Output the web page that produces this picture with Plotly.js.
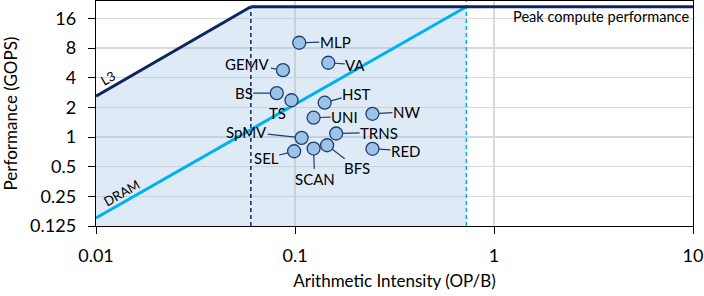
<!DOCTYPE html>
<html>
<head>
<meta charset="utf-8">
<script src="https://cdn.plot.ly/plotly-3.0.1.min.js"></script>
<style>html,body{margin:0;padding:0;background:#fff;}#chart{width:704px;height:296px;}</style>
</head>
<body>
<div id="chart"></div>
<script>
// ---- data ----
const kernels   = ['MLP','VA','GEMV','BS','TS','HST','UNI','NW','TRNS','SpMV','SEL','SCAN','BFS','RED'];
const intensity = [0.105,0.147,0.087,0.081,0.096,0.141,0.124,0.245,0.161,0.108,0.099,0.124,0.145,0.245];
const perf      = [9.05,5.67,4.77,2.79,2.36,2.23,1.57,1.72,1.085,0.98,0.717,0.764,0.825,0.759];

const peakPerf = 21;
const l3X   = [0.01, 0.06];
const l3Y   = [2.6, 21];
const dramX = [0.01, 0.726];
const dramY = [0.151, 21];

const xTickVals = [0.01, 0.1, 1, 10];
const xTickText = ['0.01', '0.1', '1', '10'];
const yTickVals = [0.125, 0.25, 0.5, 1, 2, 4, 8, 16];
const yTickText = ['0.125', '0.25', '0.5', '1', '2', '4', '8', '16'];
const xMin = 0.01, xMax = 10, yMin = 0.125, yMax = 24;

// ---- styling / label placement (pixels) ----
const FONT = 'Lato, "Open Sans", sans-serif';
const NAVY = '#0E2660';
const CYAN = '#00B0F0';
const labelOffset = {
  MLP:[36,-1], VA:[27,2], GEMV:[-35,-6], BS:[-33,0], TS:[-14,13], HST:[32,-9],
  UNI:[31,-1], NW:[34,-2], TRNS:[43,-1], SpMV:[-55,-6], SEL:[-28,7],
  SCAN:[1,30], BFS:[30,23], RED:[33,2]
};

const traces = [
  { // shaded attainable region
    x: [dramX[0], l3X[0], l3X[1], dramX[1], dramX[1]],
    y: [yMin, l3Y[0], l3Y[1], dramY[1], yMin],
    mode: 'lines', fill: 'toself', fillcolor: 'rgba(160,197,232,0.35)',
    line: {width: 0}, hoverinfo: 'skip', showlegend: false
  },
  { // L3 ridge dashed
    x: [l3X[1], l3X[1]], y: [yMin, peakPerf], mode: 'lines',
    line: {color: NAVY, width: 1.5, dash: '4px,3px'}, showlegend: false
  },
  { // DRAM ridge dashed
    x: [dramX[1], dramX[1]], y: [yMin, yMax], mode: 'lines',
    line: {color: CYAN, width: 1.5, dash: '4px,3px'}, showlegend: false
  },
  { // DRAM roof
    x: dramX, y: dramY, mode: 'lines', line: {color: CYAN, width: 3}, showlegend: false
  },
  { // L3 roof
    x: l3X, y: l3Y, mode: 'lines', line: {color: NAVY, width: 3}, showlegend: false
  },
  { // peak compute
    x: [l3X[1], xMax], y: [peakPerf, peakPerf], mode: 'lines',
    line: {color: NAVY, width: 3}, showlegend: false
  },
  { // kernels
    x: intensity, y: perf, mode: 'markers', text: kernels,
    marker: {size: 13, color: '#9DC3E6', line: {color: '#1F3E74', width: 1.3}},
    showlegend: false
  }
];

const annotations = kernels.map((k, i) => {
  const o = labelOffset[k];
  const a = {
    x: Math.log10(intensity[i]), y: Math.log10(perf[i]), xref: 'x', yref: 'y',
    text: k, font: {family: FONT, size: 15, color: '#000'},
    showarrow: true, arrowhead: 0, arrowwidth: 1.2, arrowcolor: '#1F3E74',
    ax: o[0], ay: o[1], standoff: 6.5, borderpad: 0
  };
  if (k === 'TS') { a.showarrow = false; a.xshift = o[0]; a.yshift = -o[1]; }
  return a;
});

annotations.push({
  x: Math.log10(xMax), y: Math.log10(peakPerf), xref: 'x', yref: 'y',
  text: 'Peak compute performance', showarrow: false,
  xanchor: 'right', yanchor: 'middle', xshift: -2, yshift: -10,
  font: {family: FONT, size: 14.6, color: '#000'}
});
annotations.push({
  x: Math.log10(0.0115), y: Math.log10(3.93), xref: 'x', yref: 'y',
  text: 'L3', showarrow: false, textangle: -30,
  font: {family: FONT, size: 13, color: '#000'}
});
annotations.push({
  x: Math.log10(0.01336), y: Math.log10(0.273), xref: 'x', yref: 'y',
  text: 'DRAM', showarrow: false, textangle: -30,
  font: {family: FONT, size: 13, color: '#000'}
});

const layout = {
  width: 704, height: 296,
  margin: {l: 96, r: 11, t: 1, b: 70},
  paper_bgcolor: '#fff', plot_bgcolor: '#fff',
  font: {family: FONT, color: '#000'},
  xaxis: {
    type: 'log', range: [Math.log10(xMin), Math.log10(xMax)],
    tickvals: xTickVals, ticktext: xTickText,
    ticks: 'outside', ticklen: 7, tickcolor: '#000', tickwidth: 1,
    showgrid: true, gridcolor: '#D9D9D9', gridwidth: 1.5,
    showline: true, linecolor: '#000', linewidth: 1.3, mirror: true,
    tickfont: {family: FONT, size: 18}, ticklabelstandoff: 6,
    title: {text: 'Arithmetic Intensity (OP/B)', font: {family: FONT, size: 17}, standoff: 10},
    zeroline: false, automargin: false
  },
  yaxis: {
    type: 'log', range: [Math.log10(yMin), Math.log10(yMax)],
    tickvals: yTickVals, ticktext: yTickText,
    ticks: 'outside', ticklen: 7, tickcolor: '#000', tickwidth: 1,
    showgrid: true, gridcolor: '#D9D9D9', gridwidth: 1.5,
    showline: true, linecolor: '#000', linewidth: 1.3, mirror: true,
    tickfont: {family: FONT, size: 18}, ticklabelstandoff: 8,
    title: {text: 'Performance (GOPS)', font: {family: FONT, size: 17}, standoff: 9},
    zeroline: false, automargin: false
  },
  annotations: annotations,
  showlegend: false
};

Plotly.newPlot('chart', traces, layout, {staticPlot: true, displayModeBar: false});
</script>
</body>
</html>
